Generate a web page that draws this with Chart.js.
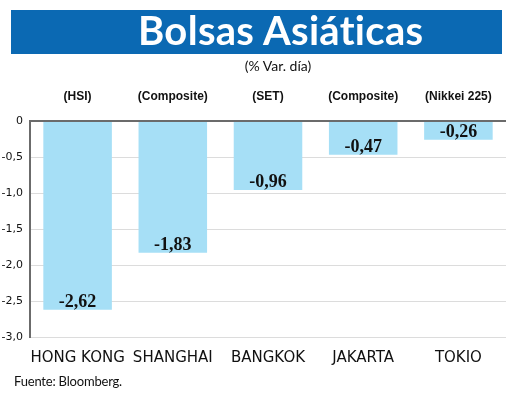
<!DOCTYPE html>
<html>
<head>
<meta charset="utf-8">
<script src="https://cdn.jsdelivr.net/npm/chart.js@4.4.1/dist/chart.umd.min.js"></script>
<style>
  html, body { margin: 0; padding: 0; background: #fff; }
  #wrap { position: relative; width: 520px; height: 408px; overflow: hidden; }
  #wrap canvas { position: absolute; left: 0; top: 0; }
  .banner { position: absolute; left: 11px; top: 10px; width: 491px; height: 44px; background: #0b69b3; }
  .titulo { position: absolute; left: 127px; top: 0; width: 284px; text-align: center;
    font: bold 40px/1 Lato, "Open Sans", sans-serif; color: #fff; white-space: nowrap; letter-spacing: 0.3px; }
  .sub { position: absolute; left: 200px; width: 156px; top: 57px; text-align: center;
    font: 14px Lato, "Open Sans", sans-serif; color: #111; }
  .fuente { position: absolute; left: 14px; top: 373px; letter-spacing: -0.2px;
    font: 13px Lato, "Open Sans", sans-serif; color: #111; }
</style>
</head>
<body>
<div id="wrap">
  <canvas id="grafico"></canvas>
  <div class="banner"><div class="titulo">Bolsas Asiáticas</div></div>
  <div class="sub">(% Var. día)</div>
  <div class="fuente">Fuente: Bloomberg.</div>
</div>
<script>
  "use strict";

  // Plazas e índices
  const plazas = ["HONG KONG", "SHANGHAI", "BANGKOK", "JAKARTA", "TOKIO"];
  const indices = ["(HSI)", "(Composite)", "(SET)", "(Composite)", "(Nikkei 225)"];

  // Variación diaria en %
  const variacion = [-2.62, -1.83, -0.96, -0.47, -0.26];

  // Escala vertical
  const ejeMin = -3;
  const ejeMax = 0;
  const ejePaso = 0.5;

  const coma = v => v.toFixed(2).replace(".", ",");

  // ¿El canvas acepta "condensed" en la fuente? Si no, se usa Liberation Sans
  function hayCondensada() {
    const c = document.createElement("canvas").getContext("2d");
    c.font = "15px 'DejaVu Sans'";
    const normal = c.measureText("HONG KONG").width;
    c.font = "condensed 15px 'DejaVu Sans'";
    const angosta = c.measureText("HONG KONG").width;
    return angosta < normal - 2;
  }
  const angosta = hayCondensada();
  const fuenteX = angosta
    ? { family: "'DejaVu Sans'", style: "condensed", size: 15 }
    : { family: "'Liberation Sans', Arial, sans-serif", size: 14 };
  const fuenteY = angosta
    ? { family: "'DejaVu Sans'", style: "condensed", size: 11 }
    : { family: "'Liberation Sans', Arial, sans-serif", size: 11 };
  const fuenteIndice = { family: "'Liberation Sans', Arial, sans-serif", size: 12, weight: "bold" };

  // Etiqueta con el valor dentro de la barra, junto a su extremo
  const etiquetas = {
    id: "etiquetas",
    afterDatasetsDraw(chart) {
      const ctx = chart.ctx;
      const meta = chart.getDatasetMeta(0);
      ctx.save();
      ctx.font = "bold 18px 'Liberation Serif', 'DejaVu Serif', serif";
      ctx.fillStyle = "#111";
      ctx.textAlign = "center";
      ctx.textBaseline = "alphabetic";
      meta.data.forEach((bar, i) => {
        ctx.fillText(coma(variacion[i]), bar.x, bar.y - 3);
      });
      ctx.restore();
    }
  };

  new Chart(document.getElementById("grafico"), {
    type: "bar",
    data: {
      labels: plazas,
      datasets: [{
        data: variacion,
        backgroundColor: "#a6dff6",
        borderWidth: 0,
        categoryPercentage: 1,
        barPercentage: 0.72
      }]
    },
    options: {
      responsive: true,
      maintainAspectRatio: false,
      animation: false,
      layout: { padding: { left: 0, right: 14, top: 0, bottom: 0 } },
      plugins: {
        legend: { display: false },
        title: { display: false },
        tooltip: { enabled: false }
      },
      scales: {
        x: {
          position: "bottom",
          grid: { display: false, drawTicks: false },
          border: { display: false },
          ticks: { padding: 12, color: "#111", font: fuenteX, maxRotation: 0, minRotation: 0, autoSkip: false },
          afterFit(scale) { scale.height = 71; }
        },
        x2: {
          type: "category",
          position: "top",
          labels: indices,
          grid: { display: false, drawTicks: false },
          border: { display: false },
          ticks: { padding: 17, color: "#111", font: fuenteIndice, maxRotation: 0, minRotation: 0, autoSkip: false },
          afterFit(scale) { scale.height = 121; }
        },
        y: {
          min: ejeMin,
          max: ejeMax,
          ticks: {
            stepSize: ejePaso,
            padding: 7,
            color: "#111",
            font: fuenteY,
            callback: v => v === 0 ? "0" : v.toFixed(1).replace(".", ",")
          },
          grid: {
            drawTicks: false,
            lineWidth: ctx => ctx.tick && ctx.tick.value === 0 ? 2 : 1,
            color: ctx => ctx.tick && ctx.tick.value === 0 ? "#6b6b6b" : "#dcdcdc"
          },
          border: { display: true, color: "#6b6b6b", width: 2 },
          afterFit(scale) { scale.width = 30; }
        }
      }
    },
    plugins: [etiquetas]
  });
</script>
</body>
</html>
